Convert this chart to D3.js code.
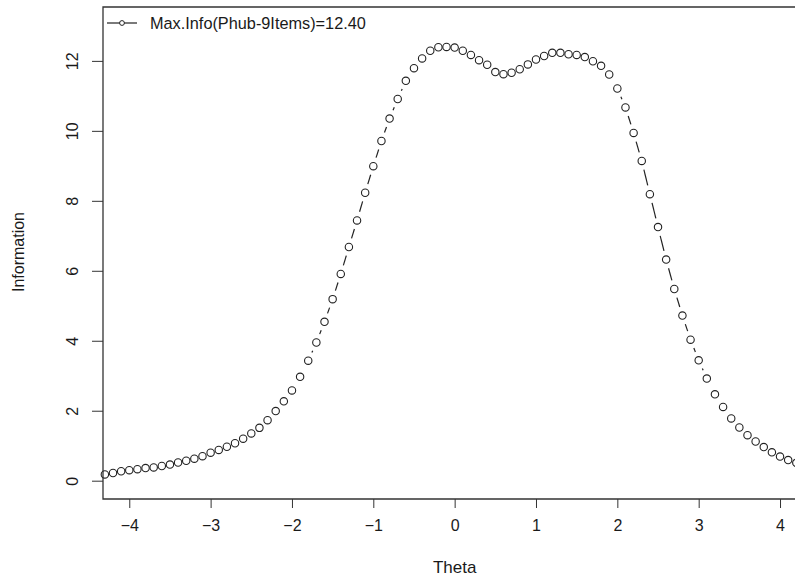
<!DOCTYPE html>
<html>
<head>
<meta charset="utf-8">
<script src="https://cdn.jsdelivr.net/npm/d3@7"></script>
<style>
  body { margin: 0; background: #fff; }
  text { font-family: "Liberation Sans", Arial, sans-serif; fill: #1a1a1a; }
</style>
</head>
<body>
<div id="chart"></div>
<script>
// test information curve
var theta = [-4.3,-4.2,-4.1,-4.0,-3.9,-3.8,-3.7,-3.6,-3.5,-3.4,-3.3,-3.2,-3.1,-3.0,-2.9,-2.8,-2.7,-2.6,-2.5,-2.4,-2.3,-2.2,-2.1,-2.0,
  -1.9,-1.8,-1.7,-1.6,-1.5,-1.4,-1.3,-1.2,-1.1,-1.0,
  -0.9,-0.8,-0.7,-0.6,-0.5,-0.4,-0.3,-0.2,-0.1,0.0,
  0.1,0.2,0.3,0.4,0.5,0.6,0.7,0.8,0.9,1.0,
  1.1,1.2,1.3,1.4,1.5,1.6,1.7,1.8,1.9,2.0,
  2.1,2.2,2.3,2.4,2.5,2.6,2.7,2.8,2.9,3.0,
  3.1,3.2,3.3,3.4,3.5,3.6,3.7,3.8,3.9,4.0,4.1,4.2]
var info = [0.18,0.22,0.27,0.30,0.33,0.36,0.38,0.42,0.46,0.52,0.57,0.63,0.70,0.80,0.88,0.97,1.07,1.20,1.35,1.51,1.73,1.99,2.27,2.58,
  2.97,3.43,3.95,4.54,5.19,5.91,6.68,7.44,8.23,8.99,
  9.71,10.35,10.91,11.43,11.79,12.07,12.29,12.39,12.40,12.38,
  12.29,12.17,12.02,11.89,11.68,11.62,11.66,11.76,11.90,12.04,
  12.14,12.23,12.23,12.19,12.17,12.11,11.99,11.86,11.61,11.21,
  10.67,9.94,9.14,8.19,7.25,6.32,5.48,4.72,4.03,3.44,
  2.92,2.47,2.11,1.78,1.52,1.30,1.12,0.96,0.81,0.69,0.59,0.51]
var xTicks = [-4,-3,-2,-1,0,1,2,3,4]
var yTicks = [0,2,4,6,8,10,12]
var legendLabel = "Max.Info(Phub-9Items)=12.40"

var WD = 795, HT = 576
var box = { left: 103, top: 7, bottom: 499 }

var svg = d3.select("#chart").append("svg")
    .attr("width", WD)
    .attr("height", HT)

var xs = d3.scaleLinear().domain([-4.323, 4.2]).range([box.left, 796.3])
var ys = d3.scaleLinear().domain([-0.523, 13.54]).range([box.bottom, box.top])

// axes, R style
var xAxis = svg.append("g")
    .attr("transform", "translate(0," + box.bottom + ")")
    .call(d3.axisBottom(xs).tickValues(xTicks).tickSize(9).tickPadding(12).tickFormat(d3.format("d")))
xAxis.select(".domain").remove()
xAxis.selectAll("text").attr("font-size", "16px").style("font-family", null)
xAxis.selectAll("line").attr("stroke", "#333")

var yAxis = svg.append("g")
    .attr("transform", "translate(" + box.left + ",0)")
    .call(d3.axisLeft(ys).tickValues(yTicks).tickSize(11).tickPadding(0).tickFormat(d3.format("d")))
yAxis.select(".domain").remove()
yAxis.selectAll("line").attr("stroke", "#333")
yAxis.selectAll("text")
    .attr("font-size", "16px")
    .attr("x", null).attr("dy", null)
    .attr("text-anchor", "middle")
    .attr("transform", "translate(-31,0) rotate(-90)")
    .attr("dy", "0.36em")

// box (right side falls outside the picture)
svg.append("path")
    .attr("d", "M" + (WD + 5) + "," + box.top + "H" + box.left + "V" + box.bottom + "H" + (WD + 5))
    .attr("fill", "none")
    .attr("stroke", "#333")
    .attr("stroke-width", 1.3)

// type = "b": segments with gaps around the points
var pts = theta.map(function(t, i) { return [xs(t), ys(info[i])] })
var gap = 9
var segs = []
for (var i = 0; i < pts.length - 1; i++) {
  var a = pts[i], b = pts[i + 1]
  var dx = b[0] - a[0], dy = b[1] - a[1]
  var d = Math.sqrt(dx * dx + dy * dy)
  if (d > 2 * gap) {
    var ux = dx / d, uy = dy / d
    segs.push([a[0] + ux * gap, a[1] + uy * gap, b[0] - ux * gap, b[1] - uy * gap])
  }
}
svg.append("g").selectAll("line")
  .data(segs)
  .enter().append("line")
    .attr("x1", function(s) { return s[0] })
    .attr("y1", function(s) { return s[1] })
    .attr("x2", function(s) { return s[2] })
    .attr("y2", function(s) { return s[3] })
    .attr("stroke", "#222")
    .attr("stroke-width", 1.2)

svg.append("g").selectAll("circle")
  .data(info)
  .enter().append("circle")
    .attr("cx", function(d, i) { return xs(theta[i]) })
    .attr("cy", function(d) { return ys(d) })
    .attr("r", 3.7)
    .attr("fill", "none")
    .attr("stroke", "#222")
    .attr("stroke-width", 1.1)

// legend
var lg = svg.append("g")
lg.append("line").attr("x1", 107).attr("x2", 137).attr("y1", 23).attr("y2", 23)
    .attr("stroke", "#222").attr("stroke-width", 1.2)
lg.append("circle").attr("cx", 122).attr("cy", 23).attr("r", 2.4)
    .attr("fill", "#fff").attr("stroke", "#222")
lg.append("text").attr("x", 150).attr("y", 29)
    .attr("font-size", "16.3px")
    .text(legendLabel)

// axis titles
svg.append("text")
    .attr("x", xs(0))
    .attr("y", 573)
    .attr("text-anchor", "middle")
    .attr("font-size", "17px")
    .text("Theta")

svg.append("text")
    .attr("transform", "translate(24," + 252 + ") rotate(-90)")
    .attr("text-anchor", "middle")
    .attr("font-size", "16px")
    .text("Information")
</script>
</body>
</html>
